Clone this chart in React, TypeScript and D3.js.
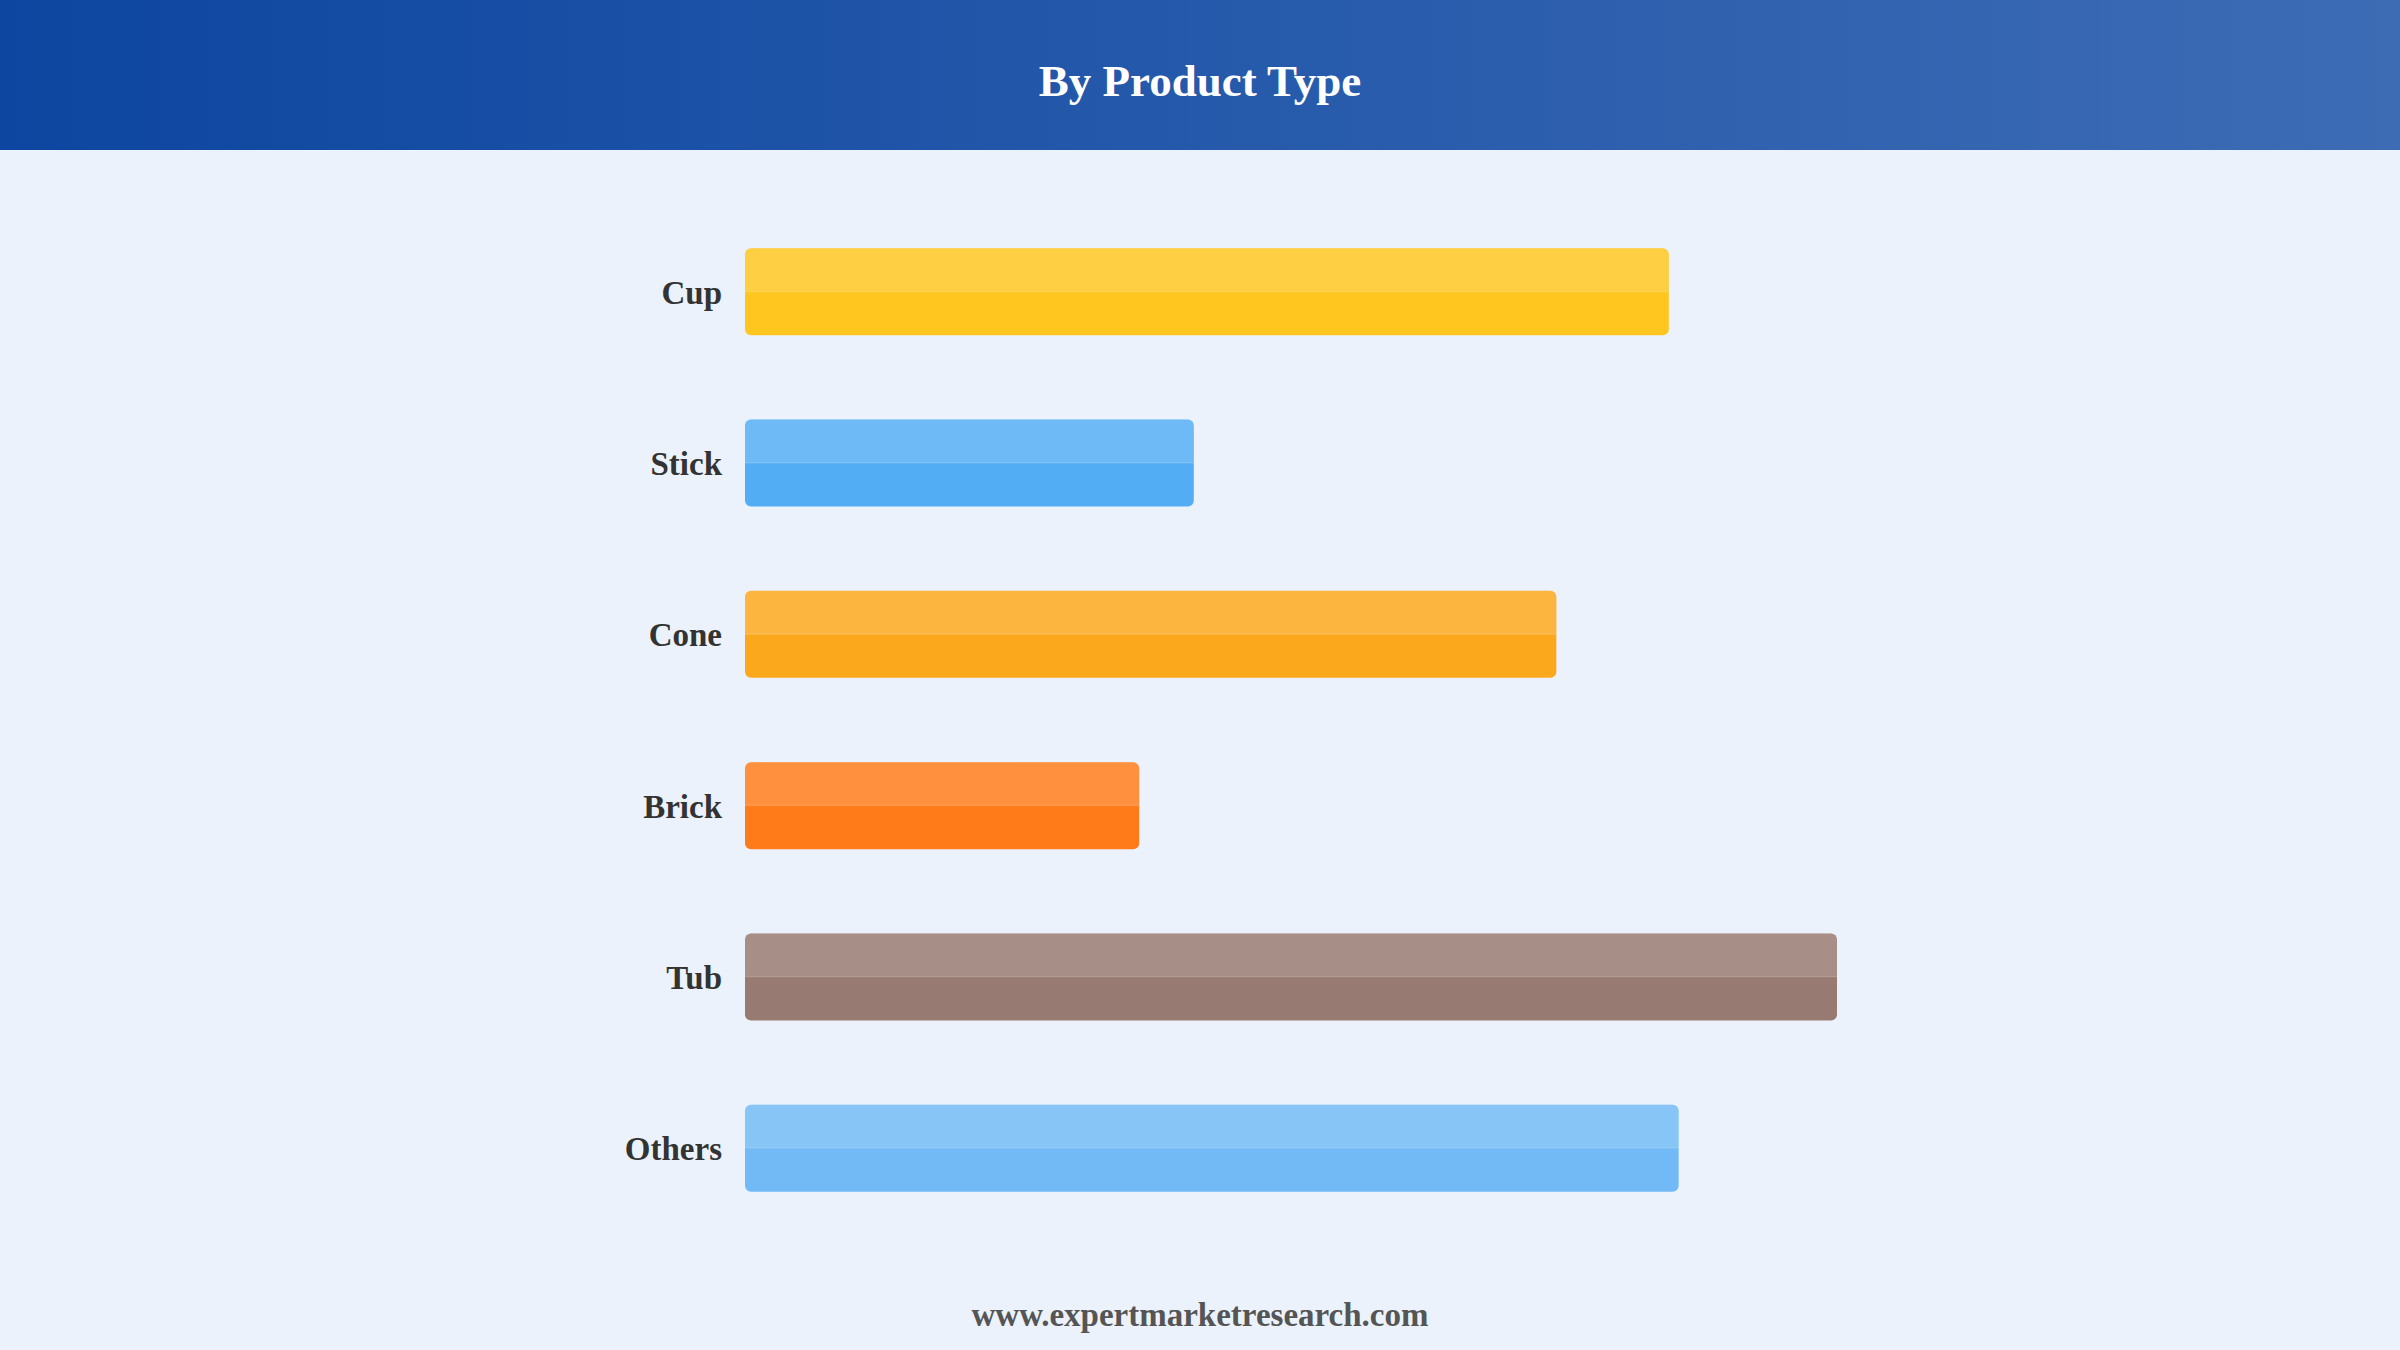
import React from 'react';
import * as d3 from 'd3';

const categories = ['Cup', 'Stick', 'Cone', 'Brick', 'Tub', 'Others'];
const values = [84.6, 41.1, 74.3, 36.1, 100, 85.5];
const colors = ['#FEC61F', '#52ADF5', '#FCA81C', '#FF7B19', '#977A71', '#71BAF5'];

const W = 2400;
const H = 1350;

const App = () => {
  const x = d3.scaleLinear().domain([0, 100]).range([745, 1837]);
  const y = d3.scaleBand().domain(categories).range([205.5, 1234.5]).paddingInner(0.492).paddingOuter(0.25);

  return (
    <svg width={W} height={H} style={{ position: 'absolute', left: 0, top: 0 }}>
      <defs>
        <linearGradient id="hdr" x1="0" x2="1" y1="0" y2="0">
          <stop offset="0%" stopColor="#0D46A0" />
          <stop offset="100%" stopColor="#3D6CB5" />
        </linearGradient>
        {categories.map((c, i) => (
          <clipPath id={`clip${i}`} key={c}>
            <rect x={x(0)} y={y(c)} width={x(values[i]) - x(0)} height={y.bandwidth()} rx={6} />
          </clipPath>
        ))}
      </defs>
      <rect x={0} y={0} width={W} height={H} fill="#EBF2FC" />
      <rect x={0} y={0} width={W} height={150} fill="url(#hdr)" />
      <text x={W / 2} y={96} textAnchor="middle" fill="#fff"
        style={{ font: 'bold 45px "Liberation Serif", "Times New Roman", serif' }}>
        By Product Type
      </text>

      {categories.map((c, i) => {
        const y0 = y(c) as number;
        const bw = y.bandwidth();
        const w = x(values[i]) - x(0);
        return (
          <g key={c}>
            <rect x={x(0)} y={y0} width={w} height={bw} rx={6} fill={colors[i]} />
            <g clipPath={`url(#clip${i})`}>
              <rect x={x(0)} y={y0} width={w} height={bw / 2} fill="#fff" opacity={0.16} />
              <rect x={x(0)} y={y0 + bw / 2 - 1} width={w} height={1.5} fill="#fff" opacity={0.12} />
            </g>
            <text x={722} y={y0 + bw / 2} dy="0.36em" textAnchor="end" fill="#333"
              style={{ font: 'bold 33px "Liberation Serif", "Times New Roman", serif' }}>
              {c}
            </text>
          </g>
        );
      })}

      <text x={W / 2} y={1326} textAnchor="middle" fill="#555"
        style={{ font: 'bold 33px "Liberation Serif", "Times New Roman", serif' }}>
        www.expertmarketresearch.com
      </text>
    </svg>
  );
};

export default App;
